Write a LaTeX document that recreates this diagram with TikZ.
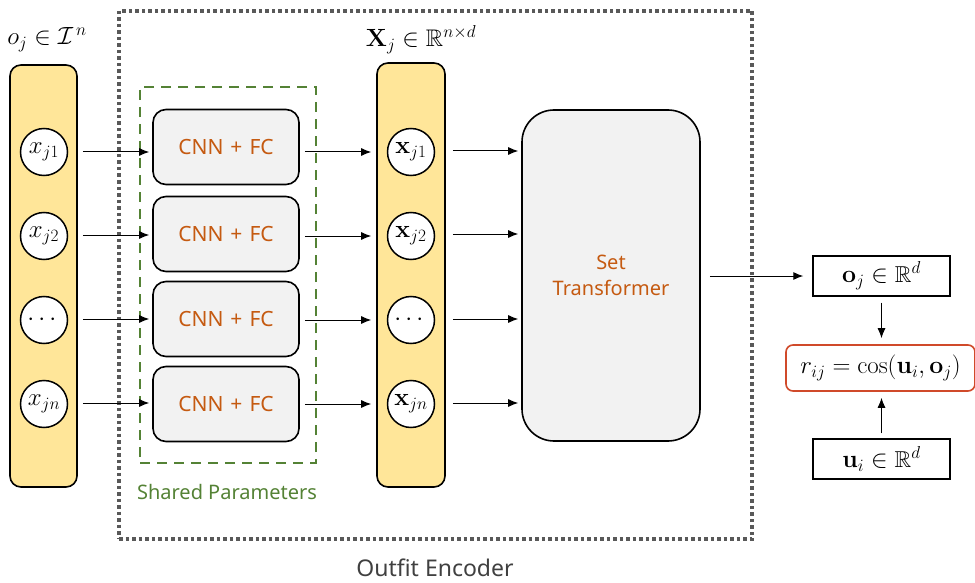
\documentclass[tikz,border=0pt]{standalone}
\usepackage{amsmath,amssymb}
\usepackage[no-math]{fontspec}
\setmainfont{Noto Sans}
\usetikzlibrary{arrows.meta}
\definecolor{colyellow}{HTML}{FFE699}
\definecolor{colgray}{HTML}{F2F2F2}
\definecolor{colorange}{HTML}{C55A11}
\definecolor{colgreen}{HTML}{548235}
\definecolor{coldot}{HTML}{595959}
\definecolor{colred}{HTML}{D04A2A}
\definecolor{coltext}{HTML}{404040}
\tikzset{
  x=1pt, y=-1pt,
  colbox/.style={draw=black, line width=1.6pt, fill=colyellow, rounded corners=11pt, minimum width=67pt, minimum height=422pt, inner sep=0pt},
  itemc/.style={circle, draw=black, line width=1.5pt, fill=white, minimum size=47pt, inner sep=0pt, font=\fontsize{24}{28}\selectfont},
  cnnbox/.style={draw=black, line width=1.6pt, fill=colgray, rounded corners=13pt, minimum width=146pt, minimum height=75pt, text=colorange, font=\fontsize{21}{25}\selectfont},
  stbox/.style={draw=black, line width=1.6pt, fill=colgray, rounded corners=32pt, minimum width=178pt, minimum height=331pt, text=colorange, align=center, font=\fontsize{20}{24}\selectfont},
  mbox/.style={draw=black, line width=1.4pt, minimum width=137pt, minimum height=40pt, inner sep=0pt, font=\fontsize{23}{27}\selectfont},
  rbox/.style={draw=colred, line width=1.6pt, rounded corners=7pt, minimum width=189pt, minimum height=46pt, inner sep=0pt, font=\fontsize{25}{29}\selectfont},
  arr/.style={-{Latex[length=10pt,width=8pt]}, line width=1pt},
  lbl/.style={font=\fontsize{24}{28}\selectfont},
}
\begin{document}
\begin{tikzpicture}
\useasboundingbox (0,0) rectangle (975,583);
% outer encoder frame
\node[draw=coldot, line width=3.5pt, dash pattern=on 3.5pt off 3pt, minimum width=633pt, minimum height=528pt, inner sep=0pt] (enc) at (435.5,275) {};
\node[text=coltext, font=\fontsize{23}{27}\selectfont] (enclbl) at (435,568) {Outfit Encoder};
% shared parameters frame
\node[draw=colgreen, line width=2pt, dash pattern=on 10pt off 7pt, minimum width=176pt, minimum height=376pt, inner sep=0pt] (shared) at (228,275) {};
\node[text=colgreen, font=\fontsize{20}{24}\selectfont] (sharedlbl) at (227,492) {Shared Parameters};
% columns
\node[colbox] (col1) at (43.5,276) {};
\node[colbox, minimum width=68pt, minimum height=424pt] (col2) at (411,275) {};
\node[lbl] (lbl1) at (47,40) {$o_j \in \mathcal{I}^{\,n}$};
\node[lbl] (lbl2) at (421,40) {$\mathbf{X}_j \in \mathbb{R}^{n\times d}$};
% input circles
\node[itemc] (a1) at (44,152) {$x_{j1}$};
\node[itemc] (a2) at (44,236) {$x_{j2}$};
\node[itemc] (a3) at (44,320) {$\cdots$};
\node[itemc] (a4) at (44,404) {$x_{jn}$};
% CNN boxes
\node[cnnbox] (c1) at (226,147) {CNN\,\,+\,\,FC};
\node[cnnbox] (c2) at (226,234) {CNN\,\,+\,\,FC};
\node[cnnbox] (c3) at (226,319) {CNN\,\,+\,\,FC};
\node[cnnbox] (c4) at (226,404) {CNN\,\,+\,\,FC};
% embedding circles
\node[itemc] (b1) at (411,152) {$\mathbf{x}_{j1}$};
\node[itemc] (b2) at (411,236) {$\mathbf{x}_{j2}$};
\node[itemc] (b3) at (411,320) {$\cdots$};
\node[itemc] (b4) at (411,404) {$\mathbf{x}_{jn}$};
% set transformer
\node[stbox] (st) at (611,275.5) {Set\\[2pt]Transformer};
% right boxes
\node[mbox] (o) at (881.5,276) {$\mathbf{o}_j \in \mathbb{R}^d$};
\node[rbox] (r) at (880.5,368) {$r_{ij} = \cos(\mathbf{u}_i, \mathbf{o}_j)$};
\node[mbox] (u) at (881.5,459) {$\mathbf{u}_i \in \mathbb{R}^d$};
% arrows inputs -> CNN
\foreach \i/\y in {1/152,2/235,3/319,4/403}{
  \draw[arr, shorten <=5pt, shorten >=3pt] (col1.east |- 0,\y) -- (c\i.west |- 0,\y);
}
% CNN -> embeddings
\foreach \i/\y in {1/152,2/236,3/320,4/404}{
  \draw[arr, shorten <=5pt, shorten >=5pt] (c\i.east |- 0,\y) -- (col2.west |- 0,\y);
}
% embeddings -> set transformer
\foreach \i/\y in {1/151,2/234,3/319,4/403}{
  \draw[arr, shorten <=7pt, shorten >=3pt] (col2.east |- 0,\y) -- (st.west |- 0,\y);
}
\draw[arr, shorten <=9pt, shorten >=9pt] (st.east |- o.west) -- (o.west);
\draw[arr, shorten <=6pt, shorten >=6pt] (o.south) -- (r.north -| o.south);
\draw[arr, shorten <=5pt, shorten >=6pt] (u.north) -- (r.south -| u.north);
\end{tikzpicture}
\end{document}
